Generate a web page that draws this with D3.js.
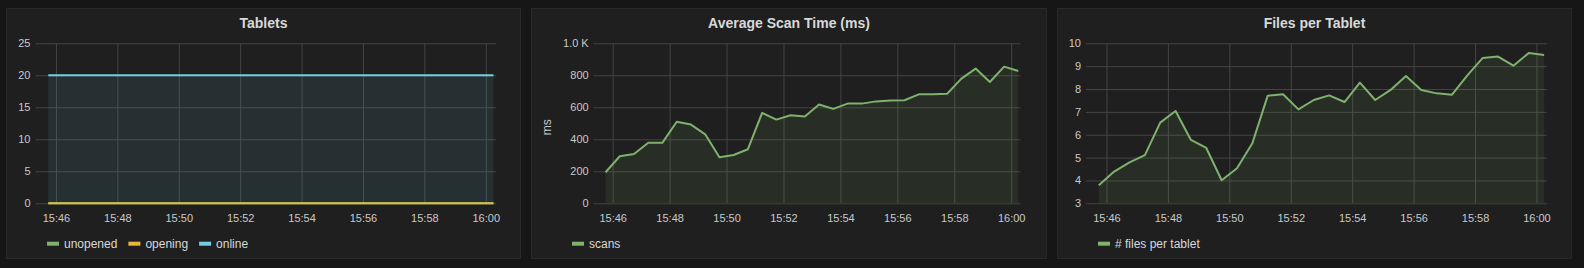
<!DOCTYPE html>
<html>
<head>
<meta charset="utf-8">
<script src="https://cdn.jsdelivr.net/npm/d3@7"></script>
<style>
  body { margin: 0; background: #161616; }
  svg { display: block; font-family: "Liberation Sans", Arial, Helvetica, sans-serif; }
</style>
</head>
<body>
<div id="dash"></div>
<script>
// sample times (30s steps) and the x tick labels
const sampleTimes = ["15:45:45","15:46:15","15:46:45","15:47:15","15:47:45","15:48:15","15:48:45","15:49:15","15:49:45","15:50:15",
  "15:50:45","15:51:15","15:51:45","15:52:15","15:52:45","15:53:15","15:53:45","15:54:15","15:54:45","15:55:15",
  "15:55:45","15:56:15","15:56:45","15:57:15","15:57:45","15:58:15","15:58:45","15:59:15","15:59:45","16:00:15"];
const xTickLabels = ["15:46","15:48","15:50","15:52","15:54","15:56","15:58","16:00"];

// Tablets
const tabletsUnopened = [0,0,0,0,0,0,0,0,0,0,0,0,0,0,0,0,0,0,0,0,0,0,0,0,0,0,0,0,0,0];
const tabletsOpening  = [0,0,0,0,0,0,0,0,0,0,0,0,0,0,0,0,0,0,0,0,0,0,0,0,0,0,0,0,0,0];
const tabletsOnline   = [20,20,20,20,20,20,20,20,20,20,20,20,20,20,20,20,20,20,20,20,20,20,20,20,20,20,20,20,20,20];
const tabletsTicks = [0,5,10,15,20,25];

// Average scan time (ms)
const scanTimes = [194,294,308,379,379,510,492,431,288,302,338,565,523,550,542,617,590,623,623,637,
  642,644,681,681,685,779,842,758,854,827];
const scanTicks = [0,200,400,600,800,1000];

// Files per tablet
const filesPerTablet = [3.79,4.39,4.79,5.11,6.53,7.04,5.77,5.42,4.01,4.53,5.63,7.71,7.77,7.11,7.52,7.72,7.43,8.28,7.52,7.96,
  8.57,7.96,7.81,7.75,8.6,9.36,9.42,9.02,9.58,9.49];
const filesTicks = [3,4,5,6,7,8,9,10];

const W = 1584, H = 268;
const panelTop = 8, panelH = 251;
const plotTop = 43.3, plotBottom = 203.3;

const parseT = d3.timeParse("%H:%M:%S");
const parseTick = d3.timeParse("%H:%M");
const times = sampleTimes.map(parseT);

const svg = d3.select("#dash")
  .append("svg")
    .attr("width", W)
    .attr("height", H);

svg.append("rect").attr("width", W).attr("height", H).attr("fill", "#161616");

function drawPanel(p) {
  const g = svg.append("g").attr("transform", `translate(${p.x},${panelTop})`);

  g.append("rect")
    .attr("x", 0.5).attr("y", 0.5)
    .attr("width", p.w - 1).attr("height", panelH - 1)
    .attr("fill", "#1f1f1f")
    .attr("stroke", "#292929");

  g.append("text")
    .attr("x", p.w / 2)
    .attr("y", 20)
    .attr("text-anchor", "middle")
    .style("font-size", "14px")
    .style("font-weight", "bold")
    .style("fill", "#d8d9da")
    .text(p.title);

  const width = p.w - p.left - p.right;
  const height = plotBottom - plotTop;
  const plot = g.append("g").attr("transform", `translate(${p.left},${plotTop - panelTop})`);

  const x = d3.scaleTime()
    .domain([parseT("15:45:20"), parseT("16:00:20")])
    .range([0, width]);
  const y = d3.scaleLinear()
    .domain(p.yDomain)
    .range([height, 0]);

  // grid + x axis
  const xAxis = plot.append("g")
    .attr("transform", `translate(0,${height})`)
    .call(d3.axisBottom(x)
      .tickValues(xTickLabels.map(parseTick))
      .tickFormat(d3.timeFormat("%H:%M"))
      .tickSize(-height)
      .tickPadding(11));
  // grid + y axis
  const yAxis = plot.append("g")
    .call(d3.axisLeft(y)
      .tickValues(p.ticks)
      .tickFormat(p.fmt || (d => d))
      .tickSize(-width)
      .tickPadding(5));

  [xAxis, yAxis].forEach(a => {
    a.select(".domain").remove();
    a.selectAll("line").attr("stroke", "#444444").attr("stroke-width", 1);
    a.selectAll("text")
      .style("font-size", "11px")
      .style("fill", "#c8c9ca")
      .attr("font-family", null);
  });

  if (p.yLabel) {
    plot.append("text")
      .attr("transform", `translate(${-p.left + 20},${height / 2 + 4}) rotate(-90)`)
      .attr("text-anchor", "middle")
      .style("font-size", "12px")
      .style("fill", "#c8c9ca")
      .text(p.yLabel);
  }

  const y0 = p.yDomain[0];
  p.series.forEach(s => {
    const pts = times.map((t, i) => [t, s.values[i]]);
    plot.append("path")
      .datum(pts)
      .attr("fill", s.color)
      .attr("fill-opacity", 0.1)
      .attr("d", d3.area().x(d => x(d[0])).y0(y(y0)).y1(d => y(d[1])));
    plot.append("path")
      .datum(pts)
      .attr("fill", "none")
      .attr("stroke", s.color)
      .attr("stroke-width", 2)
      .attr("stroke-linejoin", "round")
      .attr("d", d3.line().x(d => x(d[0])).y(d => y(d[1])));
  });

  // legend
  let lx = 41;
  const ly = 243.7 - panelTop;
  p.series.forEach(s => {
    g.append("rect")
      .attr("x", lx).attr("y", ly - 2)
      .attr("width", 12).attr("height", 4)
      .attr("fill", s.color);
    const t = g.append("text")
      .attr("x", lx + 17)
      .attr("y", ly + 4.2)
      .style("font-size", "12px")
      .style("fill", "#d8d9da")
      .text(s.name);
    lx += 17 + t.node().getComputedTextLength() + 11;
  });
}

drawPanel({
  title: "Tablets", x: 6, w: 515, left: 29.5, right: 25,
  yDomain: [0, 25], ticks: tabletsTicks,
  series: [
    {name: "unopened", color: "#7eb26d", values: tabletsUnopened},
    {name: "opening", color: "#eab839", values: tabletsOpening},
    {name: "online", color: "#6ed0e0", values: tabletsOnline}
  ]
});

drawPanel({
  title: "Average Scan Time (ms)", x: 531, w: 516, left: 62.7, right: 26.3,
  yDomain: [0, 1000], ticks: scanTicks, yLabel: "ms",
  fmt: d => d >= 1000 ? (d / 1000).toFixed(1) + " K" : d,
  series: [{name: "scans", color: "#7eb26d", values: scanTimes}]
});

drawPanel({
  title: "Files per Tablet", x: 1057, w: 515, left: 29, right: 25.3,
  yDomain: [3, 10], ticks: filesTicks,
  series: [{name: "# files per tablet", color: "#7eb26d", values: filesPerTablet}]
});
</script>
</body>
</html>
